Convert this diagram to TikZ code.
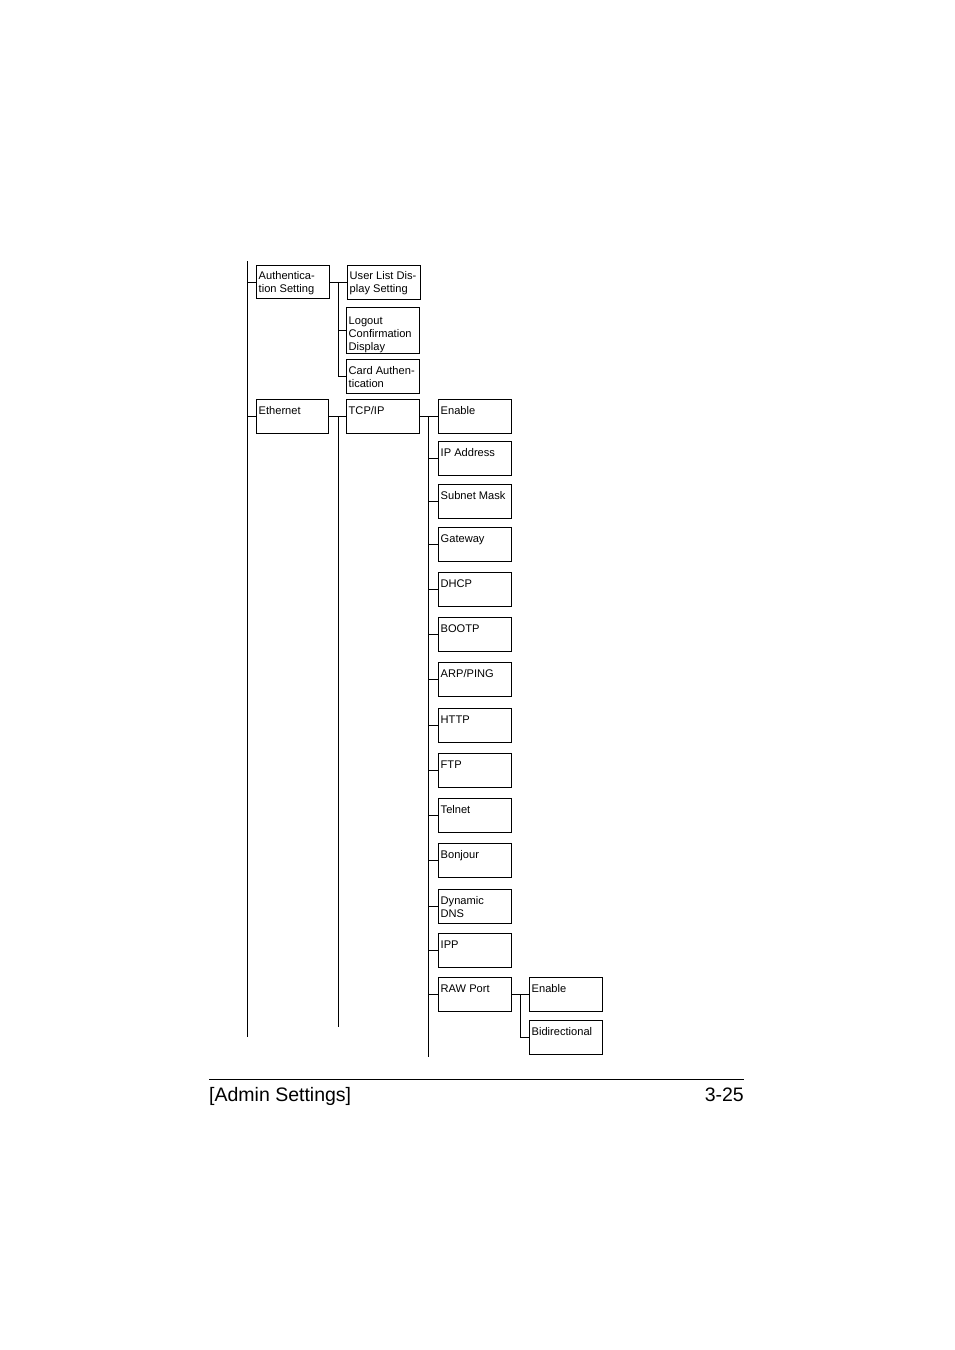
\documentclass[tikz,border=0pt]{standalone}
\usepackage{fontspec}
\setmainfont{Liberation Sans}
\usetikzlibrary{calc}

\tikzset{
  menubox/.style={draw, line width=0.8pt, anchor=north west, minimum width=73, minimum height=34, inner sep=0},
  menutext/.style={anchor=north west, xshift=2.5, yshift=-7.5, inner sep=0, align=left, font=\fontsize{11.1}{13}\selectfont},
  treeline/.style={line width=0.8pt}
}

\begin{document}
\begin{tikzpicture}[x=1pt,y=-1pt]
\useasboundingbox (0,0) rectangle (954,1350);

\coordinate (TrunkTop) at (247,261);
\coordinate (TrunkBot) at (247,1037);
\coordinate (AuthBus) at (338,0);
\coordinate (EthBusEnd) at (338,1027);
\coordinate (TcpBusEnd) at (428,1057);
\coordinate (RawBus) at (520,0);

	% first level boxes
	\node[menubox, minimum height=33, label={[menutext, yshift=1.5]north west:Authentica-\\tion Setting}] (Auth) at (256,265) {};
	\node[menubox, minimum width=72, label={[menutext]north west:Ethernet}] (Eth) at (256,399) {};
	% authentication sub boxes
	\node[menubox, label={[menutext, yshift=1]north west:User List Dis-\\play Setting}] (UList) at (347,265) {};
	\node[menubox, minimum height=46, label={[menutext, yshift=-2]north west:Logout\\Confirmation\\Display}] (Logout) at (346,307) {};
	\node[menubox, label={[menutext, yshift=0.5]north west:Card Authen-\\tication}] (Card) at (346,359) {};
	% ethernet sub box
	\node[menubox, label={[menutext]north west:TCP/IP}] (Tcp) at (346,399) {};
	% tcp/ip sub boxes
	\foreach \nm/\tp/\txt in {TcpEnable/399/Enable, IPAddr/441/IP Address, Subnet/484/Subnet Mask,
	    Gateway/527/Gateway, DHCP/572/DHCP, BOOTP/617/BOOTP, ARPPing/662/{ARP/PING},
	    HTTP/708/HTTP, FTP/753/FTP, Telnet/798/Telnet, Bonjour/843/Bonjour,
	    DynDNS/889/{Dynamic\\DNS}, IPP/933/IPP, RawPort/977/RAW Port}
	  \node[menubox, label={[menutext]north west:\txt}] (\nm) at (438,\tp) {};
	% raw port sub boxes
	\node[menubox, label={[menutext]north west:Enable}] (RawEnable) at (529,977) {};
	\node[menubox, label={[menutext]north west:Bidirectional}] (Bidir) at (529,1020) {};

	%draw trunk and first level ticks
	\draw[treeline] (TrunkTop) -- (TrunkBot);
	\draw[treeline] (Auth.west) -- (Auth.west -| TrunkTop);
	\draw[treeline] (Eth.west) -- (Eth.west -| TrunkTop);
	%draw authentication branch
	\draw[treeline] (Auth.east) -- (Auth.east -| UList.west);
	\draw[treeline] (Auth.east -| AuthBus) |- (Card.west);
	\draw[treeline] (Logout.west) -- (Logout.west -| AuthBus);
	%draw ethernet branch
	\draw[treeline] (Eth.east) -- (Eth.east -| Tcp.west);
	\draw[treeline] (Eth.east -| EthBusEnd) -- (EthBusEnd);
	%draw tcp/ip branch
	\draw[treeline] (Tcp.east) -- (Tcp.east -| TcpEnable.west);
	\draw[treeline] (Tcp.east -| TcpBusEnd) -- (TcpBusEnd);
	\foreach \nm in {IPAddr,Subnet,Gateway,DHCP,BOOTP,ARPPing,HTTP,FTP,Telnet,Bonjour,DynDNS,IPP,RawPort}
	  \draw[treeline] (\nm.west) -- (\nm.west -| TcpBusEnd);
	%draw raw port branch
	\draw[treeline] (RawPort.east) -- (RawPort.east -| RawEnable.west);
	\draw[treeline] (RawPort.east -| RawBus) |- (Bidir.west);

	% page footer
	\coordinate (FootL) at (209,1079);
	\coordinate (FootR) at (744,1079);
	\draw[line width=0.9pt] (FootL) -- (FootR);
	\node[anchor=base west, inner sep=0, font=\fontsize{19.5}{23}\selectfont] (Chapter) at ($(FootL)+(0,22)$) {[Admin Settings]};
	\node[anchor=base east, inner sep=0, font=\fontsize{19.5}{23}\selectfont] (PageNo) at ($(FootR)+(0,22)$) {3-25};

\end{tikzpicture}
\end{document}
